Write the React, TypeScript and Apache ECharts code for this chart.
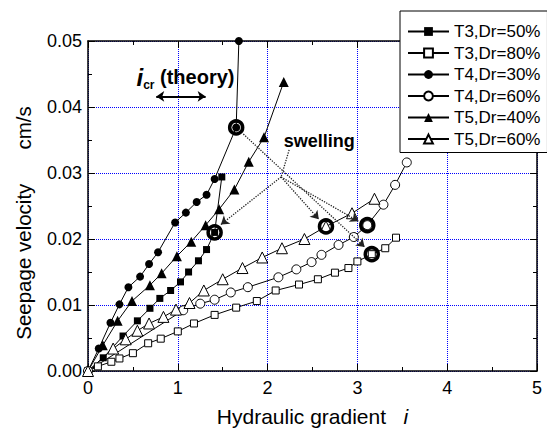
import React, { useEffect, useRef } from "react";
import * as echarts from "echarts";

const FONT = "'Liberation Sans', Arial, Helvetica, sans-serif";

const legendNames = ["T3,Dr=50%", "T3,Dr=80%", "T4,Dr=30%", "T4,Dr=60%", "T5,Dr=40%", "T5,Dr=60%"];

// [hydraulic gradient i, seepage velocity cm/s]
const t3Dr50: [number, number][] = [
  [0, 0], [0.17, 0.002], [0.39, 0.0053], [0.55, 0.0076], [0.69, 0.0095], [0.8, 0.011],
  [0.92, 0.0122], [1.03, 0.0135], [1.12, 0.015], [1.23, 0.0167], [1.32, 0.0184],
  [1.41, 0.021], [1.49, 0.0294],
];
const t3Dr80: [number, number][] = [
  [0, 0], [0.11, 0.0007], [0.26, 0.0014], [0.35, 0.0019], [0.5, 0.0027], [0.67, 0.0042],
  [0.81, 0.0049], [1.0, 0.006], [1.18, 0.0072], [1.41, 0.0085], [1.65, 0.0096],
  [1.88, 0.0106], [2.09, 0.0122], [2.35, 0.0131], [2.56, 0.0139], [2.75, 0.0149],
  [2.9, 0.0156], [3.0, 0.0166], [3.16, 0.0177], [3.31, 0.0186], [3.43, 0.0202],
];
const t4Dr30: [number, number][] = [
  [0, 0], [0.12, 0.0034], [0.25, 0.0073], [0.35, 0.0101], [0.45, 0.0127], [0.58, 0.0143],
  [0.68, 0.0162], [0.78, 0.018], [0.97, 0.0225], [1.09, 0.024], [1.21, 0.0256],
  [1.32, 0.0267], [1.41, 0.0291], [1.65, 0.0369], [1.68, 0.05],
];
const t4Dr60: [number, number][] = [
  [0, 0], [1.06, 0.0092], [1.25, 0.0102], [1.41, 0.0108], [1.59, 0.0119], [1.78, 0.0127],
  [2.12, 0.0142], [2.32, 0.0154], [2.49, 0.0165], [2.6, 0.0176], [2.79, 0.0191],
  [2.96, 0.0203], [3.11, 0.0221], [3.29, 0.0252], [3.42, 0.0282], [3.55, 0.0316],
];
const t5Dr40: [number, number][] = [
  [0, 0], [0.165, 0.0039], [0.33, 0.0076], [0.49, 0.0106], [0.69, 0.013], [0.82, 0.0148],
  [0.99, 0.0174], [1.15, 0.0196], [1.31, 0.0221], [1.46, 0.0245], [1.63, 0.0275],
  [1.79, 0.0317], [1.96, 0.0354], [2.18, 0.0438],
];
const t5Dr60: [number, number][] = [
  [0, 0], [0.28, 0.0034], [0.42, 0.0048], [0.55, 0.0061], [0.68, 0.0072], [0.84, 0.0082],
  [0.98, 0.0093], [1.13, 0.0103], [1.29, 0.0122], [1.5, 0.0139], [1.72, 0.0156],
  [1.94, 0.0172], [2.16, 0.0186], [2.41, 0.02], [2.65, 0.0219], [2.94, 0.0239], [3.19, 0.0261],
];

// points where each specimen started swelling (ringed)
const swellingPoints: [number, number][] = [
  t3Dr50[11], t3Dr80[18], t4Dr30[13], t4Dr60[12], t5Dr60[14],
];

// dotted pointers from the "swelling" note to the ringed points
const swellingStem: [number, number][] = [[2.24, 0.0335], [2.15, 0.0294]];
const swellingArrows: [number, number][][] = [
  [[2.15, 0.0294], [1.48, 0.0222]],
  [[2.15, 0.0294], [2.57, 0.023]],
  [[2.15, 0.0294], [3.01, 0.0227]],
  [[1.73, 0.0359], [3.08, 0.0188]],
];
// theoretical critical gradient range
const icrRange: [number, number] = [0.76, 1.31];
const icrArrowY = 0.0416;

const curves = [
  { data: t3Dr50, symbol: "rect", size: 7, fill: "#000" },
  { data: t3Dr80, symbol: "rect", size: 7, fill: "#fff" },
  { data: t4Dr30, symbol: "circle", size: 8, fill: "#000" },
  { data: t4Dr60, symbol: "circle", size: 9, fill: "#fff" },
  { data: t5Dr40, symbol: "triangle", size: 10, fill: "#000" },
  { data: t5Dr60, symbol: "triangle", size: 11, fill: "#fff" },
];

export default function App() {
  const ref = useRef<HTMLDivElement>(null);

  useEffect(() => {
    if (!ref.current) return;
    const chart = echarts.init(ref.current, undefined, { renderer: "svg" });

    const baseX = {
      type: "value" as const,
      min: 0,
      max: 5,
      interval: 1,
      axisLine: { show: true, onZero: false, lineStyle: { color: "#000", width: 1.5 } },
      axisTick: { show: true, inside: true, length: 7, lineStyle: { color: "#000" } },
      minorTick: { show: true, splitNumber: 2, length: 4, lineStyle: { color: "#000" } },
    };
    const baseY = {
      type: "value" as const,
      min: 0,
      max: 0.05,
      interval: 0.01,
      axisLine: { show: true, onZero: false, lineStyle: { color: "#000", width: 1.5 } },
      axisTick: { show: true, inside: true, length: 7, lineStyle: { color: "#000" } },
      minorTick: { show: true, splitNumber: 2, length: 4, lineStyle: { color: "#000" } },
    };

    const lineSeries = curves.map((c, i) => ({
      name: legendNames[i],
      type: "line",
      data: c.data,
      symbol: c.symbol,
      symbolSize: c.size,
      showAllSymbol: true,
      color: "#000",
      lineStyle: { color: "#000", width: 1 },
      itemStyle: { color: c.fill, borderColor: "#000", borderWidth: c.fill === "#fff" ? 1 : 0 },
      z: 3,
    }));

    const option: any = {
      animation: false,
      textStyle: { fontFamily: FONT },
      grid: { left: 88, right: 10, top: 41, bottom: 57, outerBoundsMode: "none", containLabel: false },
      legend: {
        data: legendNames,
        orient: "vertical",
        left: 400,
        top: 11,
        itemWidth: 41,
        itemHeight: 11,
        itemGap: 4.5,
        padding: [12, 7, 5, 7],
        borderColor: "#000",
        borderWidth: 1,
        backgroundColor: "#fff",
        textStyle: { fontSize: 17, color: "#000", fontFamily: FONT },
      },
      xAxis: [
        {
          ...baseX,
          position: "bottom",
          axisLabel: { fontSize: 18, color: "#000", margin: 8, fontFamily: FONT },
          splitLine: { show: true, lineStyle: { color: "#0000ff", type: "dotted", width: 1 } },
          name: "{t|Hydraulic gradient   }{i|i}",
          nameLocation: "middle",
          nameGap: 35,
          nameTextStyle: {
            rich: {
              t: { fontSize: 21, color: "#000", fontFamily: FONT },
              i: { fontSize: 21, color: "#000", fontStyle: "italic", fontFamily: FONT },
            },
          },
        },
        { ...baseX, position: "top", axisLabel: { show: false }, splitLine: { show: false } },
      ],
      yAxis: [
        {
          ...baseY,
          position: "left",
          axisLabel: {
            fontSize: 18,
            color: "#000",
            margin: 6,
            fontFamily: FONT,
            formatter: (v: number) => v.toFixed(2),
          },
          splitLine: { show: true, lineStyle: { color: "#0000ff", type: "dotted", width: 1 } },
        },
        { ...baseY, position: "right", axisLabel: { show: false }, splitLine: { show: false } },
      ],
      series: [
        ...lineSeries,
        {
          name: "swelling",
          type: "scatter",
          data: swellingPoints,
          symbol: "circle",
          symbolSize: 13,
          itemStyle: { color: "rgba(0,0,0,0)", borderColor: "#000", borderWidth: 3.5, opacity: 1 },
          z: 5,
          silent: true,
          markLine: {
            silent: true,
            animation: false,
            label: { show: false },
            symbol: ["none", "arrow"],
            symbolSize: 8,
            lineStyle: { color: "#222", type: "dotted", width: 1.3 },
            data: [
              [
                { coord: swellingStem[0], symbol: "none" },
                { coord: swellingStem[1], symbol: "none" },
              ],
              ...swellingArrows.map((a) => [{ coord: a[0] }, { coord: a[1] }]),
              [
                {
                  coord: [icrRange[0], icrArrowY],
                  symbol: "arrow",
                  lineStyle: { type: "solid", width: 2, color: "#000" },
                },
                {
                  coord: [icrRange[1], icrArrowY],
                  symbol: "arrow",
                  lineStyle: { type: "solid", width: 2, color: "#000" },
                },
              ],
            ],
          },
        },
      ],
    };

    chart.setOption(option);

    const px = (p: [number, number]) => chart.convertToPixel({ gridIndex: 0 }, p) as number[];
    const icrPos = px([0.54, 0.0445]);
    const swPos = px([2.18, 0.0348]);
    chart.setOption({
      graphic: [
        {
          // y-axis title, set a little below the plot's middle
          type: "text",
          x: 23,
          y: 223,
          rotation: Math.PI / 2,
          style: {
            text: "Seepage velocity      cm/s",
            fontSize: 20.5,
            fill: "#000",
            fontFamily: FONT,
            align: "center",
            verticalAlign: "middle",
          },
        },
        {
          type: "text",
          x: icrPos[0],
          y: icrPos[1],
          z: 10,
          style: {
            text: "{i|i}{cr|cr}{t| (theory)}",
            verticalAlign: "middle",
            align: "left",
            rich: {
              i: { fontSize: 24, fontWeight: "bold", fontStyle: "italic", fill: "#000", fontFamily: FONT, lineHeight: 28 },
              cr: { fontSize: 12, fontWeight: "bold", fill: "#000", fontFamily: FONT, verticalAlign: "bottom", lineHeight: 12 },
              t: { fontSize: 20, fontWeight: "bold", fill: "#000", fontFamily: FONT, lineHeight: 28 },
            },
          },
        },
        {
          type: "text",
          x: swPos[0],
          y: swPos[1],
          z: 10,
          style: {
            text: "swelling",
            fontSize: 18,
            fontWeight: "bold",
            fill: "#000",
            fontFamily: FONT,
            verticalAlign: "middle",
            align: "left",
          },
        },
      ],
    });

    return () => chart.dispose();
  }, []);

  return (
    <div
      ref={ref}
      style={{ position: "absolute", left: 0, top: 0, width: 547, height: 428, background: "#fff" }}
    />
  );
}
